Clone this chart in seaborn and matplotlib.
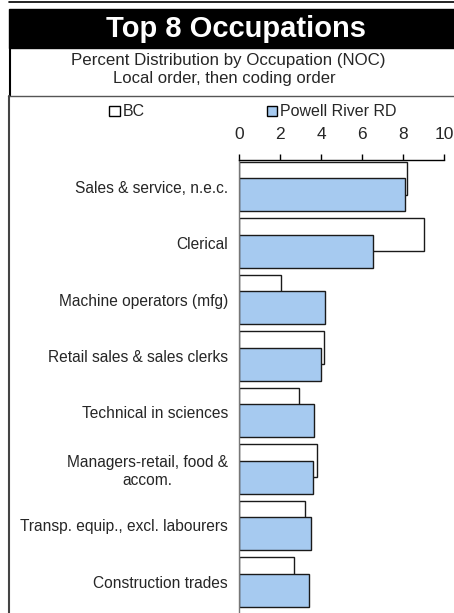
import numpy as np
import pandas as pd
import seaborn as sns
import matplotlib.pyplot as plt
from matplotlib.patches import Rectangle, Patch
from matplotlib.lines import Line2D

occupations = ['Sales & service, n.e.c.', 'Clerical', 'Machine operators (mfg)',
               'Retail sales & sales clerks', 'Technical in sciences',
               'Managers-retail, food &\naccom.', 'Transp. equip., excl. labourers',
               'Construction trades']
bc = [8.2, 9.0, 2.05, 4.15, 2.95, 3.8, 3.2, 2.7]
powell = [8.1, 6.55, 4.2, 4.0, 3.65, 3.6, 3.5, 3.4]
ticks = [0, 2, 4, 6, 8, 10]

sns.set_theme(style='white')
plt.rcParams['font.family'] = ['Liberation Sans', 'DejaVu Sans']

W, H = 454, 613
fig = plt.figure(figsize=(W / 100, H / 100), dpi=100)

# frame bits around the chart
fig.add_artist(Line2D([9 / W, 1], [1 - 1.5 / H] * 2, color='black', lw=1.2))
fig.add_artist(Rectangle((9 / W, 1 - 48 / H), 1 - 9 / W, 39 / H, color='black'))
fig.add_artist(Line2D([10 / W] * 2, [1 - 48 / H, 1 - 96 / H], color='black', lw=1.5))
fig.add_artist(Line2D([8 / W, 1], [1 - 96 / H] * 2, color='#555555', lw=1))
fig.add_artist(Line2D([8.5 / W] * 2, [0, 1 - 96 / H], color='#444444', lw=1.5))

fig.text(236 / W, 1 - 29 / H, 'Top 8 Occupations', color='white', fontsize=21,
         fontweight='bold', ha='center', va='center')
fig.text(228 / W, 1 - 61 / H, 'Percent Distribution by Occupation (NOC)',
         fontsize=12.2, ha='center', va='center')
fig.text(224 / W, 1 - 79 / H, 'Local order, then coding order',
         fontsize=12, ha='center', va='center')

ax = fig.add_axes([239 / W, 0, (444 - 239) / W, 453 / H])
off = 0.147
sns.barplot(x=bc, y=occupations, orient='h', color='white', edgecolor='#1a1a1a',
            linewidth=1, width=0.58, saturation=1, errorbar=None, ax=ax)
n = len(ax.patches)
for p in ax.patches:
    p.set_y(p.get_y() - off)
sns.barplot(x=powell, y=occupations, orient='h', color='#A6CAF0', edgecolor='#1a1a1a',
            linewidth=1, width=0.58, saturation=1, errorbar=None, ax=ax)
for p in ax.patches[n:]:
    p.set_y(p.get_y() + off)

ax.set_xlim(0, 10)
ax.set_ylim(7.55, -0.47)
ax.set_xticks(ticks)
ax.xaxis.tick_top()
ax.tick_params(axis='x', direction='out', length=4, width=1, color='black',
               labelsize=12.5, pad=9, top=True, bottom=False)
ax.tick_params(axis='y', length=0, labelsize=11.2, pad=8)
for lab in ax.get_yticklabels():
    lab.set_multialignment('center')
ax.set_xlabel('')
ax.set_ylabel('')
for s in ['right', 'bottom']:
    ax.spines[s].set_visible(False)
ax.spines['top'].set_color('black')
ax.spines['left'].set_color('#777777')
ax.spines['top'].set_linewidth(1)
ax.spines['left'].set_linewidth(1)

handles = [Patch(facecolor='white', edgecolor='black', lw=1, label='BC'),
           Patch(facecolor='#A6CAF0', edgecolor='black', lw=1, label='Powell River RD')]
fig.legend(handles=handles, ncol=2, loc='center', bbox_to_anchor=(253 / W, 1 - 112 / H),
           frameon=False, fontsize=11.5, handlelength=0.65, handleheight=0.65,
           handletextpad=0.2, columnspacing=7.6)

fig.savefig('out.png', dpi=100)
